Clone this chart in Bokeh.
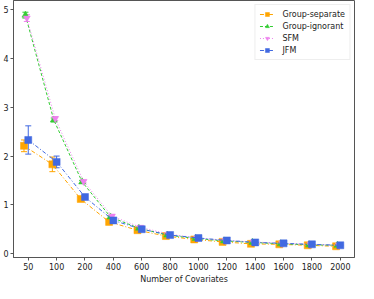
from bokeh.plotting import figure
from bokeh.models import ColumnDataSource, Whisker, TeeHead, Legend, LegendItem, Range1d, FixedTicker, Title
from bokeh.embed import file_html
from bokeh.resources import INLINE

categories = ["50", "100", "200", "400", "600", "800", "1000", "1200", "1400", "1600", "1800", "2000"]

group_separate = [2.21, 1.83, 1.12, 0.65, 0.48, 0.36, 0.29, 0.24, 0.20, 0.19, 0.17, 0.15]
group_separate_err = [0.12, 0.15, 0.04, 0.03, 0.02, 0.02, 0.01, 0.01, 0.01, 0.01, 0.01, 0.01]

group_ignorant = [4.89, 2.74, 1.47, 0.75, 0.52, 0.38, 0.31, 0.26, 0.23, 0.20, 0.18, 0.17]
group_ignorant_err = [0.06, 0.04, 0.03, 0.02, 0.02, 0.01, 0.01, 0.01, 0.01, 0.01, 0.01, 0.01]

sfm = [4.83, 2.77, 1.48, 0.77, 0.54, 0.40, 0.32, 0.27, 0.24, 0.21, 0.19, 0.17]
sfm_err = [0.07, 0.04, 0.03, 0.02, 0.02, 0.01, 0.01, 0.01, 0.01, 0.01, 0.01, 0.01]

jfm = [2.33, 1.88, 1.16, 0.68, 0.50, 0.38, 0.32, 0.27, 0.23, 0.21, 0.19, 0.17]
jfm_err = [0.29, 0.12, 0.04, 0.03, 0.02, 0.02, 0.01, 0.01, 0.01, 0.01, 0.01, 0.01]

x_label = "Number of Covariates"

series = [
    ("Group-separate", group_separate, group_separate_err, "#FFA500", "square", -0.15, "4 2 1 2", 7),
    ("Group-ignorant", group_ignorant, group_ignorant_err, "#32CD32", "triangle", -0.10, "3 2", 7),
    ("SFM", sfm, sfm_err, "#EE82EE", "inverted_triangle", -0.05, "1 2", 7),
    ("JFM", jfm, jfm_err, "#4169E1", "square", 0.0, "4 2 1 2", 7),
]

FONT = "DejaVu Sans"

p = figure(width=358, height=283, output_backend="svg", toolbar_location=None,
           x_range=Range1d(-0.52, 11.5), y_range=Range1d(-0.08, 5.19),
           min_border_left=0, min_border_right=4, min_border_top=0, min_border_bottom=0)

p.xgrid.visible = False
p.ygrid.visible = False
p.outline_line_color = "#555555"
p.outline_line_width = 1
p.background_fill_color = "white"
p.border_fill_color = "white"

items = []
for name, vals, errs, color, marker, off, dash, size in series:
    xs = [i + off for i in range(len(categories))]
    src = ColumnDataSource(dict(x=xs, y=vals,
                                lo=[v - e for v, e in zip(vals, errs)],
                                hi=[v + e for v, e in zip(vals, errs)]))
    ln = p.line("x", "y", source=src, line_color=color, line_width=1.0, line_dash=dash)
    w = Whisker(source=src, base="x", lower="lo", upper="hi", line_color=color, line_width=1.0,
                upper_head=TeeHead(size=6, line_color=color, line_width=1.0),
                lower_head=TeeHead(size=6, line_color=color, line_width=1.0))
    p.add_layout(w)
    sc = p.scatter("x", "y", source=src, marker=marker, size=size, fill_color=color,
                   line_color=color, line_width=0.5)
    items.append(LegendItem(label=name, renderers=[ln, sc]))

legend = Legend(items=items, location="top_right")
legend.label_text_font = FONT
legend.label_text_font_size = "8px"
legend.label_text_color = "#222222"
legend.label_height = 10
legend.glyph_height = 10
legend.glyph_width = 15
legend.spacing = 2
legend.padding = 4
legend.margin = 4
legend.label_standoff = 8
legend.border_line_color = "#dddddd"
legend.background_fill_alpha = 0.85
p.add_layout(legend)

p.xaxis.ticker = FixedTicker(ticks=list(range(len(categories))))
p.xaxis.major_label_overrides = {i: c for i, c in enumerate(categories)}
p.yaxis.ticker = FixedTicker(ticks=[0, 1, 2, 3, 4, 5])

for ax in (p.xaxis[0], p.yaxis[0]):
    ax.axis_line_color = "#555555"
    ax.major_tick_line_color = "#555555"
    ax.major_tick_out = 3
    ax.major_tick_in = 0
    ax.minor_tick_line_color = None
    ax.major_label_text_font = FONT
    ax.major_label_text_font_size = "8px"
    ax.major_label_text_color = "#222222"
    ax.major_label_standoff = 2

xt = Title(text=x_label, align="center", vertical_align="bottom", text_font=FONT,
           text_font_size="8px", text_font_style="normal", text_color="#222222",
           standoff=0, offset=0)
p.add_layout(xt, "below")

open("out.html", "w").write(file_html(p, INLINE))
